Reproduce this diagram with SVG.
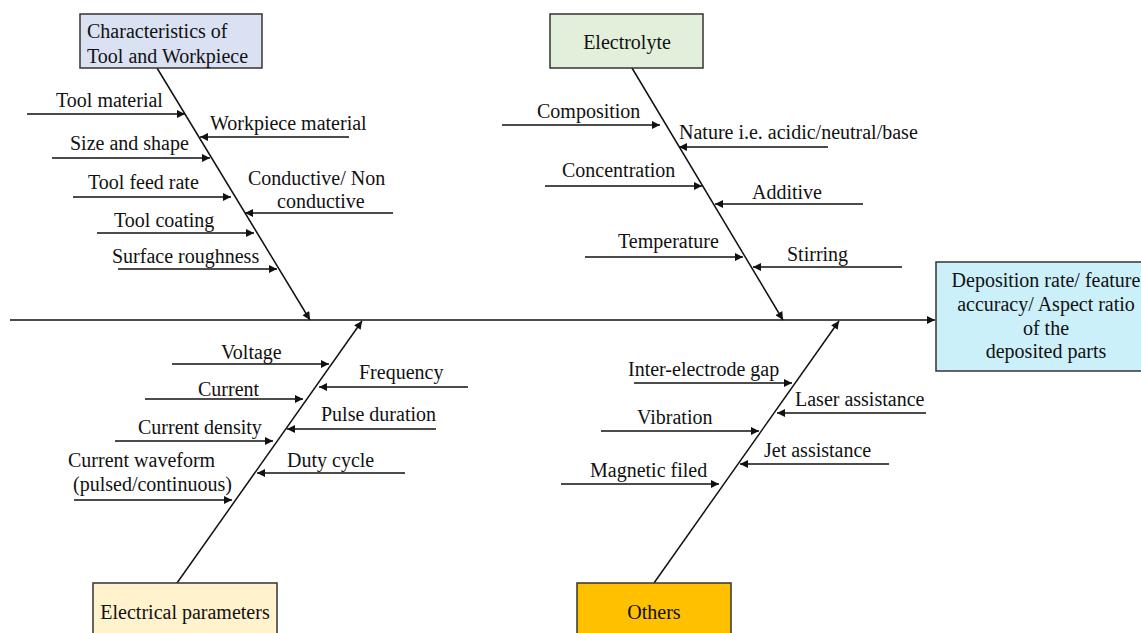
<svg xmlns="http://www.w3.org/2000/svg" width="1141" height="633" viewBox="0 0 1141 633">
<style>
text{font-family:'Liberation Serif','Tinos','DejaVu Serif','Noto Serif',serif;font-size:20px;fill:#111}
.box{stroke:#333;stroke-width:1.5}
.ar{stroke:#111;stroke-width:1.5;fill:none;marker-end:url(#ah)}
.c{text-anchor:middle}
</style>
<defs>
<marker id="ah" viewBox="0 0 10 10" refX="10" refY="5" markerWidth="10" markerHeight="8" markerUnits="userSpaceOnUse" orient="auto">
<path d="M0,0 L10,5 L0,10 z" fill="#111"/>
</marker>
</defs>
<rect width="1141" height="633" fill="#fff"/>
<g id="connectors">
<line class="ar" x1="10" y1="320" x2="935" y2="320"/>
<line class="ar" x1="157" y1="68" x2="310" y2="320"/>
<line class="ar" x1="632" y1="68" x2="783" y2="320"/>
<line class="ar" x1="177" y1="583" x2="362" y2="321"/>
<line class="ar" x1="654" y1="583" x2="839" y2="321"/>
<line class="ar" x1="27" y1="114" x2="185" y2="114"/>
<line class="ar" x1="349" y1="137" x2="200" y2="137"/>
<line class="ar" x1="52" y1="158" x2="210" y2="158"/>
<line class="ar" x1="73" y1="197" x2="231" y2="197"/>
<line class="ar" x1="393" y1="213" x2="245" y2="213"/>
<line class="ar" x1="97" y1="233" x2="254" y2="233"/>
<line class="ar" x1="118" y1="269" x2="277" y2="269"/>
<line class="ar" x1="502" y1="125" x2="660" y2="125"/>
<line class="ar" x1="828" y1="147" x2="679" y2="147"/>
<line class="ar" x1="545" y1="186" x2="702" y2="186"/>
<line class="ar" x1="863" y1="204" x2="715" y2="204"/>
<line class="ar" x1="585" y1="257" x2="743" y2="257"/>
<line class="ar" x1="902" y1="267" x2="753" y2="267"/>
<line class="ar" x1="172" y1="364" x2="329" y2="364"/>
<line class="ar" x1="468" y1="387" x2="319" y2="387"/>
<line class="ar" x1="145" y1="399" x2="303" y2="399"/>
<line class="ar" x1="436" y1="429" x2="287" y2="429"/>
<line class="ar" x1="115" y1="441" x2="273" y2="441"/>
<line class="ar" x1="405" y1="473" x2="257" y2="473"/>
<line class="ar" x1="74" y1="500" x2="232" y2="500"/>
<line class="ar" x1="634" y1="383" x2="792" y2="383"/>
<line class="ar" x1="926" y1="413" x2="777" y2="413"/>
<line class="ar" x1="601" y1="431" x2="759" y2="431"/>
<line class="ar" x1="889" y1="464" x2="740" y2="464"/>
<line class="ar" x1="561" y1="484" x2="719" y2="484"/>
</g>
<g id="node-tool">
<rect class="box" x="80" y="14" width="182" height="54" fill="#dae1f3"/>
<text x="87" y="38">Characteristics of</text>
<text x="87" y="63">Tool and Workpiece</text>
</g>
<g id="node-electrolyte">
<rect class="box" x="550" y="14" width="153" height="54" fill="#e2efda"/>
<text class="c" x="627" y="49">Electrolyte</text>
</g>
<g id="node-electrical">
<rect class="box" x="93" y="583" width="184" height="60" fill="#fff2cc"/>
<text class="c" x="185" y="619">Electrical parameters</text>
</g>
<g id="node-others">
<rect class="box" x="577" y="583" width="154" height="60" fill="#ffc000"/>
<text class="c" x="654" y="619">Others</text>
</g>
<g id="node-result">
<rect class="box" x="936" y="262" width="215" height="109" fill="#ccf0fa"/>
<text class="c" x="1046" y="287">Deposition rate/ feature</text>
<text class="c" x="1046" y="311">accuracy/ Aspect ratio</text>
<text class="c" x="1046" y="335">of the</text>
<text class="c" x="1046" y="358">deposited parts</text>
</g>
<g id="labels">
<text x="56" y="107">Tool material</text>
<text x="210" y="130">Workpiece material</text>
<text x="70" y="150">Size and shape</text>
<text x="88" y="189">Tool feed rate</text>
<text x="248" y="185">Conductive/ Non</text>
<text x="277" y="208">conductive</text>
<text x="114" y="227">Tool coating</text>
<text x="112" y="263">Surface roughness</text>
<text x="537" y="118">Composition</text>
<text x="679" y="139">Nature i.e. acidic/neutral/base</text>
<text x="562" y="177">Concentration</text>
<text x="752" y="199">Additive</text>
<text x="618" y="248">Temperature</text>
<text x="787" y="261">Stirring</text>
<text x="221" y="359">Voltage</text>
<text x="359" y="379">Frequency</text>
<text x="198" y="396">Current</text>
<text x="321" y="421">Pulse duration</text>
<text x="138" y="434">Current density</text>
<text x="287" y="467">Duty cycle</text>
<text x="68" y="467">Current waveform</text>
<text x="73" y="491">(pulsed/continuous)</text>
<text x="628" y="376">Inter-electrode gap</text>
<text x="795" y="406">Laser assistance</text>
<text x="637" y="424">Vibration</text>
<text x="764" y="457">Jet assistance</text>
<text x="590" y="477">Magnetic filed</text>
</g>
</svg>
